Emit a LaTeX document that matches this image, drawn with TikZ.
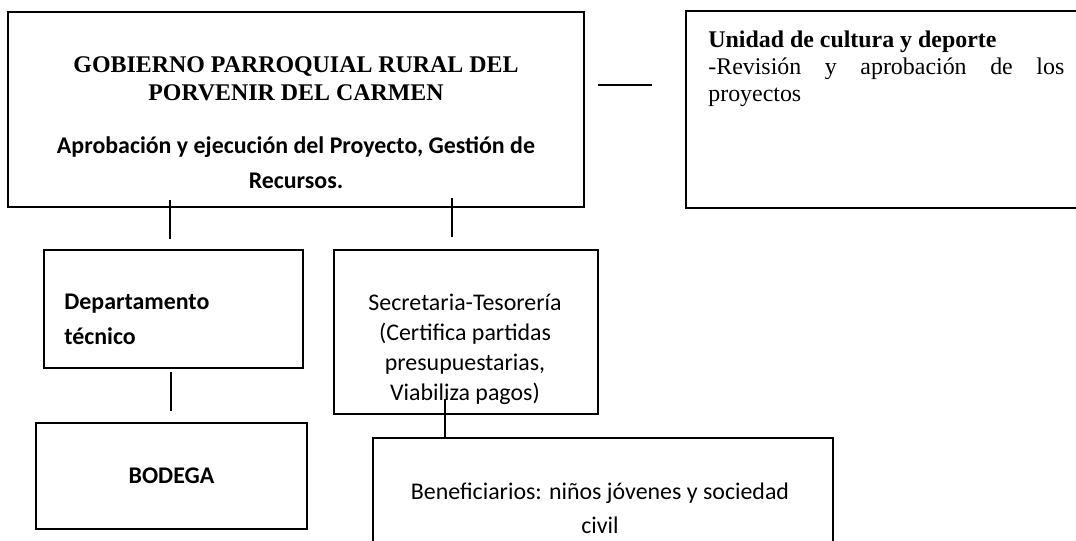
\documentclass[tikz,border=0pt]{standalone}
\usepackage{fontspec}
\setmainfont{Liberation Serif}
\newfontfamily\calibri{Carlito}
\usetikzlibrary{positioning,calc}

\tikzset{
	box/.style = {draw = black, line width = 1pt, shape = rectangle, inner sep = 0pt},
	link/.style = {draw = black, line width = 0.9pt},
	txt/.style = {inner sep = 0pt, align = center},
}

\begin{document}
\begin{tikzpicture}[x = 0.2mm, y = -0.2mm]

	\useasboundingbox (0,0) rectangle (1076,540);
	\clip (0,0) rectangle (1076,540);

	% boxes
	\draw (296,109.5) node[box,
					 minimum width = 115.2mm,
					 minimum height = 39mm] (main) {};

	\draw (893,109.5) node[box,
					 minimum width = 82.8mm,
					 minimum height = 39.4mm] (unidad) {};

	\draw (173.5,309) node[box,
					 minimum width = 51.8mm,
					 minimum height = 23.6mm] (dept) {};

	\draw (466,332) node[box,
					 minimum width = 52.8mm,
					 minimum height = 32.8mm] (secr) {};

	\draw (171.5,476) node[box,
					 minimum width = 54.2mm,
					 minimum height = 21.2mm,
					 font = \calibri\bfseries\fontsize{13.6}{16}\selectfont] (bodega) {BODEGA};

	\draw (603,529) node[box,
					 minimum width = 92mm,
					 minimum height = 36.4mm] (benef) {};

	% texts (base = last line)
	\draw (296,100) node[txt, anchor = base,
					 font = \bfseries\fontsize{13.6}{15.6}\selectfont] (mainhead)
					 {GOBIERNO PARROQUIAL RURAL DEL\\PORVENIR DEL CARMEN};

	\draw (296,188) node[txt, anchor = base,
					 font = \calibri\bfseries\fontsize{13.6}{19.5}\selectfont] (maintask)
					 {Aprobación y ejecución del Proyecto, Gestión de\\Recursos.};

	\draw (708,47) node[txt, anchor = base west,
					 text width = 71.2mm,
					 align = justify,
					 font = \fontsize{13.6}{15.5}\selectfont] (unitext)
					 {{\bfseries Unidad de cultura y deporte}\\
					 \mbox{-Revisión} y aprobación de los \mbox{proyectos}};

	\draw (64,344) node[txt, anchor = base west,
					 align = left,
					 font = \calibri\bfseries\fontsize{13.6}{19.5}\selectfont] (depttext)
					 {Departamento\\técnico};

	\draw (465,400) node[txt, anchor = base,
					 font = \calibri\fontsize{13.6}{17}\selectfont] (secrtext)
					 {Secretaria-Tesorería\\(Certifica partidas\\presupuestarias,\\Viabiliza pagos)};

	\draw (600,533) node[txt, anchor = base,
					 font = \calibri\fontsize{13.6}{19.3}\selectfont] (beneftext)
					 {Beneficiarios: niños jóvenes y sociedad\\civil};

	% connectors
	\coordinate (linkL) at (598,85);
	\coordinate (linkR) at (652,85);
	\draw[link] (linkL) -- (linkR);

	\draw[link] ($(main.south -| dept.north) + (-3.5,-8)$) -- ($(dept.north) + (-3.5,-10)$);
	\draw[link] ($(main.south -| secr.north) + (-14,-10)$) -- ($(secr.north) + (-14,-12)$);
	\draw[link] ($(dept.south) + (-2.5,3)$) -- ($(bodega.north -| dept.south) + (-2.5,-11)$);
	\draw[link] ($(secr.south) + (-21,-16)$) -- ($(benef.north -| secr.south) + (-21,0)$);

\end{tikzpicture}
\end{document}
